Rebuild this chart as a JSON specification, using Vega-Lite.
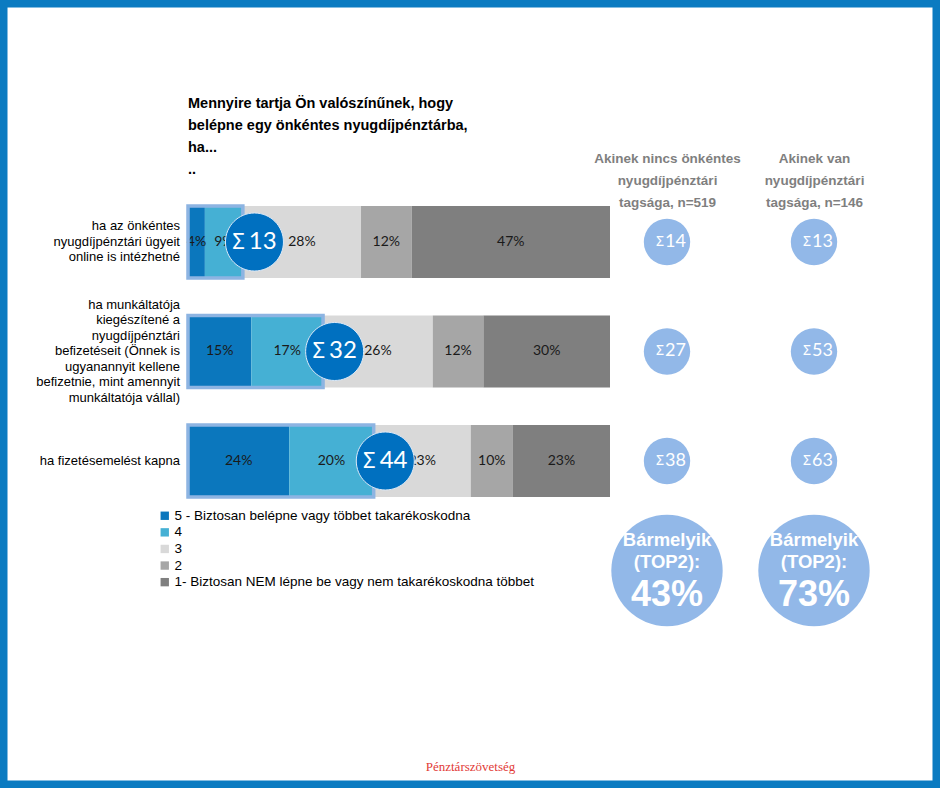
{
  "$schema": "https://vega.github.io/schema/vega-lite/v6.json",
  "width": 940,
  "height": 788,
  "autosize": {"type": "fit", "contains": "padding"},
  "padding": 0,
  "background": "white",
  "config": {
    "view": {"stroke": "#0b7bc1", "strokeWidth": 15},
    "font": "Liberation Sans",
    "axis": {"grid": false}
  },
  "title": {
    "text": ["Mennyire tartja Ön valószínűnek, hogy", "belépne egy önkéntes nyugdíjpénztárba,", "ha...", ".."],
    "anchor": "start",
    "frame": "group",
    "orient": "top",
    "offset": -177,
    "dx": 188,
    "font": "Liberation Sans",
    "fontSize": 14.5,
    "fontWeight": "bold",
    "lineHeight": 22,
    "color": "#000000"
  },
  "datasets": {
    "answers": [
      {"question": "ha az önkéntes\nnyugdíjpénztári ügyeit\nonline is intézhetné", "answer": 5, "label": "5 - Biztosan belépne vagy többet takarékoskodna", "pct": 4},
      {"question": "ha az önkéntes\nnyugdíjpénztári ügyeit\nonline is intézhetné", "answer": 4, "label": "4", "pct": 9},
      {"question": "ha az önkéntes\nnyugdíjpénztári ügyeit\nonline is intézhetné", "answer": 3, "label": "3", "pct": 28},
      {"question": "ha az önkéntes\nnyugdíjpénztári ügyeit\nonline is intézhetné", "answer": 2, "label": "2", "pct": 12},
      {"question": "ha az önkéntes\nnyugdíjpénztári ügyeit\nonline is intézhetné", "answer": 1, "label": "1- Biztosan NEM lépne be vagy nem takarékoskodna többet", "pct": 47},
      {"question": "ha munkáltatója\nkiegészítené a\nnyugdíjpénztári\nbefizetéseit (Önnek is\nugyanannyit kellene\nbefizetnie, mint amennyit\nmunkáltatója vállal)", "answer": 5, "label": "5 - Biztosan belépne vagy többet takarékoskodna", "pct": 15},
      {"question": "ha munkáltatója\nkiegészítené a\nnyugdíjpénztári\nbefizetéseit (Önnek is\nugyanannyit kellene\nbefizetnie, mint amennyit\nmunkáltatója vállal)", "answer": 4, "label": "4", "pct": 17},
      {"question": "ha munkáltatója\nkiegészítené a\nnyugdíjpénztári\nbefizetéseit (Önnek is\nugyanannyit kellene\nbefizetnie, mint amennyit\nmunkáltatója vállal)", "answer": 3, "label": "3", "pct": 26},
      {"question": "ha munkáltatója\nkiegészítené a\nnyugdíjpénztári\nbefizetéseit (Önnek is\nugyanannyit kellene\nbefizetnie, mint amennyit\nmunkáltatója vállal)", "answer": 2, "label": "2", "pct": 12},
      {"question": "ha munkáltatója\nkiegészítené a\nnyugdíjpénztári\nbefizetéseit (Önnek is\nugyanannyit kellene\nbefizetnie, mint amennyit\nmunkáltatója vállal)", "answer": 1, "label": "1- Biztosan NEM lépne be vagy nem takarékoskodna többet", "pct": 30},
      {"question": "ha fizetésemelést kapna", "answer": 5, "label": "5 - Biztosan belépne vagy többet takarékoskodna", "pct": 24},
      {"question": "ha fizetésemelést kapna", "answer": 4, "label": "4", "pct": 20},
      {"question": "ha fizetésemelést kapna", "answer": 3, "label": "3", "pct": 23},
      {"question": "ha fizetésemelést kapna", "answer": 2, "label": "2", "pct": 10},
      {"question": "ha fizetésemelést kapna", "answer": 1, "label": "1- Biztosan NEM lépne be vagy nem takarékoskodna többet", "pct": 23}
    ],
    "top2": [
      {"question": "ha az önkéntes\nnyugdíjpénztári ügyeit\nonline is intézhetné", "top2": 13},
      {"question": "ha munkáltatója\nkiegészítené a\nnyugdíjpénztári\nbefizetéseit (Önnek is\nugyanannyit kellene\nbefizetnie, mint amennyit\nmunkáltatója vállal)", "top2": 32},
      {"question": "ha fizetésemelést kapna", "top2": 44}
    ],
    "groups": [
      {"group": "Akinek nincs önkéntes\nnyugdíjpénztári\ntagsága, n=519", "question": "ha az önkéntes\nnyugdíjpénztári ügyeit\nonline is intézhetné", "top2": 14},
      {"group": "Akinek nincs önkéntes\nnyugdíjpénztári\ntagsága, n=519", "question": "ha munkáltatója\nkiegészítené a\nnyugdíjpénztári\nbefizetéseit (Önnek is\nugyanannyit kellene\nbefizetnie, mint amennyit\nmunkáltatója vállal)", "top2": 27},
      {"group": "Akinek nincs önkéntes\nnyugdíjpénztári\ntagsága, n=519", "question": "ha fizetésemelést kapna", "top2": 38},
      {"group": "Akinek van\nnyugdíjpénztári\ntagsága, n=146", "question": "ha az önkéntes\nnyugdíjpénztári ügyeit\nonline is intézhetné", "top2": 13},
      {"group": "Akinek van\nnyugdíjpénztári\ntagsága, n=146", "question": "ha munkáltatója\nkiegészítené a\nnyugdíjpénztári\nbefizetéseit (Önnek is\nugyanannyit kellene\nbefizetnie, mint amennyit\nmunkáltatója vállal)", "top2": 53},
      {"group": "Akinek van\nnyugdíjpénztári\ntagsága, n=146", "question": "ha fizetésemelést kapna", "top2": 63}
    ],
    "any": [
      {"group": "Akinek nincs önkéntes\nnyugdíjpénztári\ntagsága, n=519", "question": "Bármelyik (TOP2)", "pct": 43},
      {"group": "Akinek van\nnyugdíjpénztári\ntagsága, n=146", "question": "Bármelyik (TOP2)", "pct": 73}
    ]
  },
  "encoding": {
    "y": {
      "field": "question", "type": "nominal", "sort": null, "axis": null,
      "scale": {"type": "band", "domain": ["ha az önkéntes\nnyugdíjpénztári ügyeit\nonline is intézhetné", "ha munkáltatója\nkiegészítené a\nnyugdíjpénztári\nbefizetéseit (Önnek is\nugyanannyit kellene\nbefizetnie, mint amennyit\nmunkáltatója vállal)", "ha fizetésemelést kapna", "Bármelyik (TOP2)"], "range": [206, 606.5], "paddingInner": 0.3425, "paddingOuter": 0}
    }
  },
  "layer": [
    {
      "data": {"name": "answers"},
      "transform": [
        {"stack": "pct", "groupby": ["question"], "sort": [{"field": "answer", "order": "descending"}], "as": ["x0", "x1"]}
      ],
      "mark": {"type": "bar"},
      "encoding": {
        "x": {
          "field": "x0",
          "type": "quantitative",
          "scale": {"domain": [0, 100], "range": [188, 610], "nice": false, "zero": false},
          "axis": {
            "orient": "bottom", "offset": -22, "domain": false, "ticks": false, "labels": false, "grid": false,
            "title": "Pénztárszövetség", "titleX": 470, "titleY": 0, "titleAlign": "center", "titleBaseline": "middle",
            "titleFont": "Liberation Serif", "titleFontSize": 13, "titleFontWeight": "normal", "titleColor": "#e23a36"
          }
        },
        "x2": {"field": "x1"},
        "color": {
          "field": "label",
          "type": "nominal",
          "scale": {
            "domain": ["5 - Biztosan belépne vagy többet takarékoskodna", "4", "3", "2", "1- Biztosan NEM lépne be vagy nem takarékoskodna többet"],
            "range": ["#0b77bd", "#45b0d4", "#d9d9d9", "#a6a6a6", "#7f7f7f"]
          },
          "legend": {
            "orient": "none", "legendX": 158, "legendY": 509, "title": null,
            "symbolType": "square", "symbolSize": 70, "symbolStrokeWidth": 0,
            "labelFont": "Liberation Sans", "labelFontSize": 13.5, "labelColor": "#000000",
            "labelLimit": 600, "labelOffset": 3, "rowPadding": 1.6
          }
        }
      }
    },
    {
      "data": {"name": "answers"},
      "transform": [
        {"stack": "pct", "groupby": ["question"], "sort": [{"field": "answer", "order": "descending"}], "as": ["x0", "x1"]},
        {"calculate": "(datum.x0 + datum.x1) / 2", "as": "mid"},
        {"calculate": "datum.pct + '%'", "as": "txt"}
      ],
      "mark": {"type": "text", "font": "Lato", "fontSize": 14, "color": "#1a1a1a", "baseline": "middle", "align": "center"},
      "encoding": {
        "x": {"field": "mid", "type": "quantitative", "scale": {"domain": [0, 100], "range": [188, 610], "nice": false, "zero": false}, "axis": null},
        "text": {"field": "txt"}
      }
    },
    {
      "data": {"name": "top2"},
      "mark": {"type": "bar", "fill": "transparent", "stroke": "#8db4e2", "strokeWidth": 3.5},
      "encoding": {
        "x": {"field": "top2", "type": "quantitative", "scale": {"domain": [0, 100], "range": [188, 610], "nice": false, "zero": false}, "axis": null}
      }
    },
    {
      "data": {"name": "top2"},
      "mark": {"type": "text", "align": "right", "baseline": "middle", "dx": -8, "dy": {"expr": "-(length(split(datum.question, '\\n')) - 1) * 7.75"}, "lineBreak": "\n", "font": "Liberation Sans", "fontSize": 13, "lineHeight": 15.5, "color": "#000000"},
      "encoding": {
        "x": {"datum": 0, "type": "quantitative", "scale": {"domain": [0, 100], "range": [188, 610], "nice": false, "zero": false}, "axis": null},
        "text": {"field": "question"}
      }
    },
    {
      "data": {"name": "top2"},
      "mark": {"type": "point", "shape": "M 1.4 0 A 1 1 0 1 1 -0.6 0 A 1 1 0 1 1 1.4 0 Z", "filled": true, "size": 3364, "color": "#0070c0", "opacity": 1, "stroke": "#dce9f7", "strokeWidth": 1},
      "encoding": {
        "x": {"field": "top2", "type": "quantitative", "scale": {"domain": [0, 100], "range": [188, 610], "nice": false, "zero": false}, "axis": null}
      }
    },
    {
      "data": {"name": "top2"},
      "mark": {"type": "text", "text": "Σ", "align": "right", "baseline": "middle", "dx": 2, "font": "Noto Sans", "fontSize": 22, "color": "#ffffff"},
      "encoding": {
        "x": {"field": "top2", "type": "quantitative", "scale": {"domain": [0, 100], "range": [188, 610], "nice": false, "zero": false}, "axis": null}
      }
    },
    {
      "data": {"name": "top2"},
      "mark": {"type": "text", "align": "left", "baseline": "middle", "dx": 6, "font": "Lato", "fontSize": 24, "color": "#ffffff"},
      "encoding": {
        "x": {"field": "top2", "type": "quantitative", "scale": {"domain": [0, 100], "range": [188, 610], "nice": false, "zero": false}, "axis": null},
        "text": {"field": "top2"}
      }
    },
    {
      "data": {"name": "groups"},
      "mark": {"type": "circle", "size": 2150, "color": "#92b8e8", "opacity": 1},
      "encoding": {
        "x": {
          "field": "group", "type": "nominal", "sort": null,
          "scale": {"type": "point", "domain": ["Akinek nincs önkéntes\nnyugdíjpénztári\ntagsága, n=519", "Akinek van\nnyugdíjpénztári\ntagsága, n=146"], "range": [667, 814], "padding": 0},
          "axis": {
            "orient": "top", "offset": -167, "domain": false, "ticks": false, "labelAngle": 0,
            "labelExpr": "split(datum.label, '\\n')",
            "labelFont": "Liberation Sans", "labelFontWeight": "bold", "labelFontSize": 13.5, "labelLineHeight": 22,
            "labelColor": "#7f7f7f", "labelPadding": 2, "labelLimit": 300, "title": null
          }
        }
      }
    },
    {
      "data": {"name": "groups"},
      "mark": {"type": "text", "text": "Σ", "align": "right", "baseline": "middle", "dx": -3, "font": "Noto Sans", "fontSize": 14, "color": "#ffffff"},
      "encoding": {
        "x": {"field": "group", "type": "nominal", "sort": null, "scale": {"type": "point", "domain": ["Akinek nincs önkéntes\nnyugdíjpénztári\ntagsága, n=519", "Akinek van\nnyugdíjpénztári\ntagsága, n=146"], "range": [667, 814], "padding": 0}, "axis": null}
      }
    },
    {
      "data": {"name": "groups"},
      "mark": {"type": "text", "align": "left", "baseline": "middle", "dx": -2, "font": "Lato", "fontSize": 18, "color": "#ffffff"},
      "encoding": {
        "x": {"field": "group", "type": "nominal", "sort": null, "scale": {"type": "point", "domain": ["Akinek nincs önkéntes\nnyugdíjpénztári\ntagsága, n=519", "Akinek van\nnyugdíjpénztári\ntagsága, n=146"], "range": [667, 814], "padding": 0}, "axis": null},
        "text": {"field": "top2"}
      }
    },
    {
      "data": {"name": "any"},
      "mark": {"type": "circle", "size": 12400, "color": "#92b8e8", "opacity": 1},
      "encoding": {
        "x": {"field": "group", "type": "nominal", "sort": null, "scale": {"type": "point", "domain": ["Akinek nincs önkéntes\nnyugdíjpénztári\ntagsága, n=519", "Akinek van\nnyugdíjpénztári\ntagsága, n=146"], "range": [667, 814], "padding": 0}, "axis": null}
      }
    },
    {
      "data": {"name": "any"},
      "mark": {"type": "text", "text": ["Bármelyik", "(TOP2):"], "align": "center", "baseline": "middle", "dy": -31, "font": "Liberation Sans", "fontWeight": "bold", "fontSize": 18.5, "lineHeight": 22, "color": "#ffffff"},
      "encoding": {
        "x": {"field": "group", "type": "nominal", "sort": null, "scale": {"type": "point", "domain": ["Akinek nincs önkéntes\nnyugdíjpénztári\ntagsága, n=519", "Akinek van\nnyugdíjpénztári\ntagsága, n=146"], "range": [667, 814], "padding": 0}, "axis": null}
      }
    },
    {
      "data": {"name": "any"},
      "transform": [{"calculate": "datum.pct + '%'", "as": "txt"}],
      "mark": {"type": "text", "align": "center", "baseline": "middle", "dy": 24, "font": "Liberation Sans", "fontWeight": "bold", "fontSize": 36, "color": "#ffffff"},
      "encoding": {
        "x": {"field": "group", "type": "nominal", "sort": null, "scale": {"type": "point", "domain": ["Akinek nincs önkéntes\nnyugdíjpénztári\ntagsága, n=519", "Akinek van\nnyugdíjpénztári\ntagsága, n=146"], "range": [667, 814], "padding": 0}, "axis": null},
        "text": {"field": "txt"}
      }
    }
  ],
  "resolve": {"scale": {"x": "independent"}}
}
